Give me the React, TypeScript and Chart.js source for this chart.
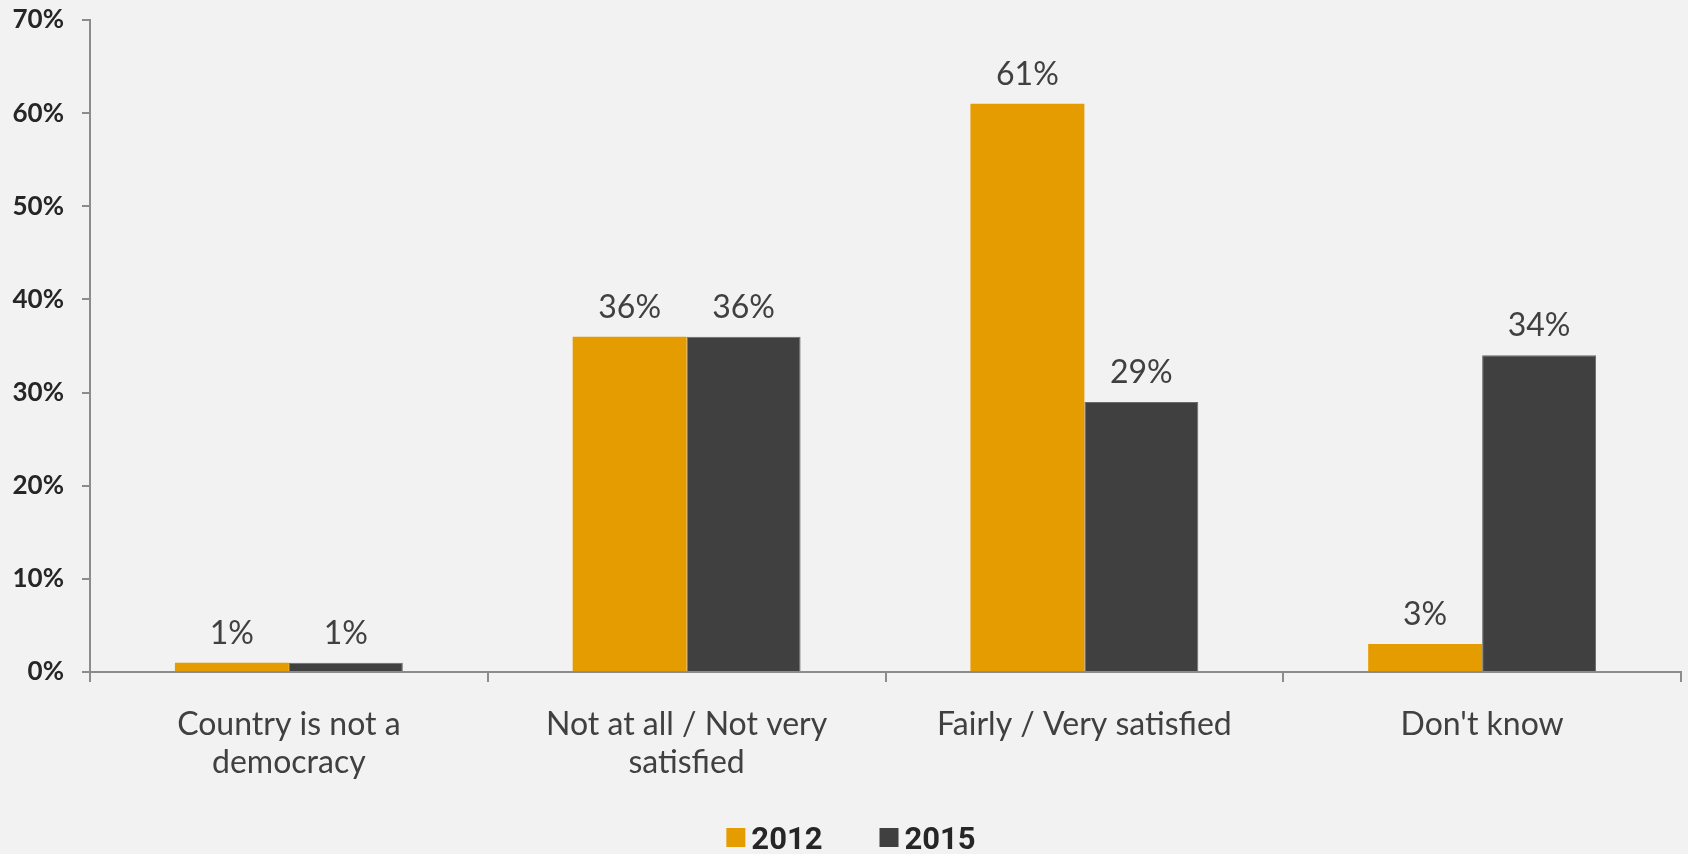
import React, { useEffect, useRef } from "react";
import { Chart, registerables } from "chart.js";

Chart.register(...registerables);

const categories: string[][] = [
  ["Country is not a", "democracy"],
  ["Not at all / Not very", "satisfied"],
  ["Fairly / Very satisfied"],
  ["Don't know"],
];
const seriesNames = ["2012", "2015"];
const values2012 = [1, 36, 61, 3];
const values2015 = [1, 36, 29, 34];
const seriesColors = ["#E59C00", "#404040"];
const yMax = 70;
const yStep = 10;

const labelFont = "Lato, 'Open Sans', sans-serif";

const valueLabelPlugin = {
  id: "valueLabels",
  afterDatasetsDraw(chart: any) {
    const ctx = chart.ctx;
    ctx.save();
    ctx.font = `32px ${labelFont}`;
    ctx.fillStyle = "#404040";
    ctx.textAlign = "center";
    ctx.textBaseline = "alphabetic";
    chart.data.datasets.forEach((ds: any, i: number) => {
      const meta = chart.getDatasetMeta(i);
      meta.data.forEach((bar: any, j: number) => {
        ctx.fillText(ds.data[j] + "%", bar.x, bar.y - 19);
      });
    });
    ctx.restore();
  },
};

const legendPlugin = {
  id: "customLegend",
  afterDraw(chart: any) {
    const ctx = chart.ctx;
    ctx.save();
    ctx.font = "bold 31px Roboto, sans-serif";
    ctx.textBaseline = "alphabetic";
    ctx.textAlign = "left";
    const box = 19;
    const gapBoxText = 6;
    const gapItems = 57;
    const items = chart.data.datasets.map((ds: any) => ({
      label: ds.label,
      color: ds.backgroundColor,
      w: box + gapBoxText + ctx.measureText(ds.label).width,
    }));
    const total =
      items.reduce((a: number, it: any) => a + it.w, 0) +
      gapItems * (items.length - 1);
    let x = chart.width / 2 + 7 - total / 2;
    const baseline = 849;
    items.forEach((it: any) => {
      ctx.fillStyle = it.color;
      ctx.fillRect(x, baseline - box - 2, box, box);
      ctx.fillStyle = "#262626";
      ctx.fillText(it.label, x + box + gapBoxText, baseline);
      x += it.w + gapItems;
    });
    ctx.restore();
  },
};

export default function App() {
  const ref = useRef<HTMLCanvasElement | null>(null);

  useEffect(() => {
    if (!ref.current) return;
    const chart = new Chart(ref.current, {
      type: "bar",
      data: {
        labels: categories,
        datasets: [
          {
            label: seriesNames[0],
            data: values2012,
            backgroundColor: seriesColors[0],
            categoryPercentage: 0.573,
            barPercentage: 1,
          },
          {
            label: seriesNames[1],
            data: values2015,
            backgroundColor: seriesColors[1],
            borderColor: "#6a6a6a",
            borderWidth: 1,
            categoryPercentage: 0.573,
            barPercentage: 1,
          },
        ],
      },
      options: {
        animation: false,
        responsive: true,
        maintainAspectRatio: false,
        layout: { padding: { top: 20, right: 7, left: 0, bottom: 0 } },
        plugins: {
          legend: { display: false },
          tooltip: { enabled: false },
        },
        scales: {
          x: {
            afterFit(s: any) {
              s.height = 182;
            },
            grid: {
              offset: true,
              drawOnChartArea: false,
              drawTicks: true,
              tickLength: 10,
              color: "#8c8c8c",
              lineWidth: 2,
            },
            border: { display: true, color: "#8c8c8c", width: 2 },
            ticks: {
              color: "#404040",
              padding: 23,
              maxRotation: 0,
              autoSkip: false,
              font: { family: labelFont, size: 32, lineHeight: 1.2 },
            },
          },
          y: {
            min: 0,
            max: yMax,
            afterFit(s: any) {
              s.width = 90;
              s.paddingTop = 0;
              s.paddingBottom = 0;
            },
            grid: {
              drawOnChartArea: false,
              drawTicks: true,
              tickLength: 8,
              color: "#8c8c8c",
              lineWidth: 2,
            },
            border: { display: true, color: "#8c8c8c", width: 2 },
            ticks: {
              stepSize: yStep,
              padding: 18,
              color: "#262626",
              font: { family: labelFont, size: 26, weight: "bold" },
              callback: (v: any) => v + "%",
            },
          },
        },
      },
      plugins: [valueLabelPlugin, legendPlugin],
    });
    return () => chart.destroy();
  }, []);

  return (
    <div
      style={{
        position: "fixed",
        left: 0,
        top: 0,
        width: 1688,
        height: 854,
        background: "#f2f2f2",
      }}
    >
      <canvas ref={ref} />
    </div>
  );
}
